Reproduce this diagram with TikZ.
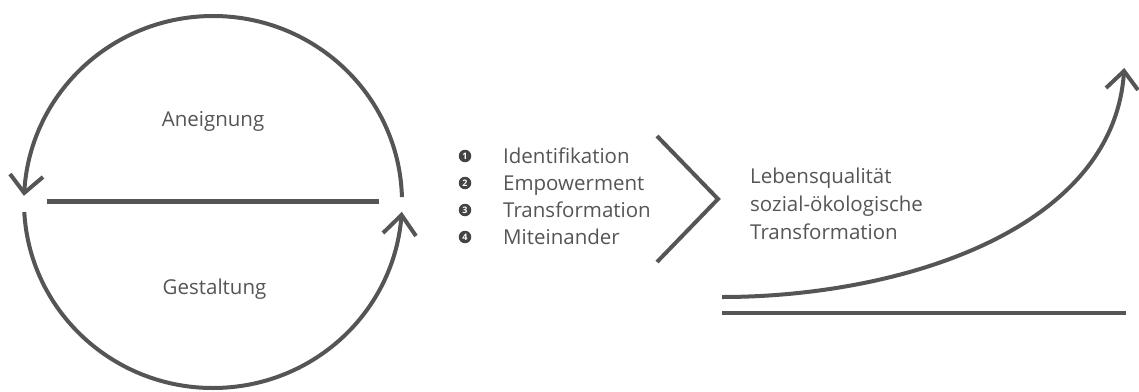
\documentclass[tikz,border=0pt]{standalone}
\usepackage{fontspec}
\setmainfont{Open Sans}
\definecolor{linegray}{HTML}{555555}
\definecolor{textgray}{HTML}{555555}
\definecolor{dotgray}{HTML}{444444}
\begin{document}
\begin{tikzpicture}[x=1pt,y=-1pt,
  stroke/.style={draw=linegray, line width=4pt, line join=miter},
  txt/.style={text=textgray, font=\fontsize{20.5}{28}\selectfont, inner sep=0pt},
  numdot/.style={circle, fill=dotgray, text=white, inner sep=0pt, minimum size=12.5pt,
    font=\fontsize{9}{9}\selectfont\bfseries},
]
\useasboundingbox (0,0) rectangle (1139,391);

% cycle: two half arcs with open arrowheads and a dividing line
\coordinate (C) at (213,202);
\draw[stroke] (C) ++(-1.5:189 and 186) arc[start angle=-1.5, end angle=-177.2, x radius=189, y radius=186] coordinate (lefttip);
\draw[stroke] (C) ++(176.9:189 and 186) arc[start angle=176.9, end angle=4, x radius=189, y radius=186] coordinate (righttip);
\coordinate (la) at (10,174);
\coordinate (lb) at (43,177);
\draw[stroke] (la) -- (lefttip) -- (lb);
\coordinate (ra) at (383,233);
\coordinate (rb) at (416,236);
\draw[stroke] (ra) -- (righttip) -- (rb);
\coordinate (d1) at (47,201.5);
\coordinate (d2) at (379,201.5);
\draw[stroke, line width=4.5pt] (d1) -- (d2);

\node[txt, anchor=base] (aneig) at (213,126) {Aneignung};
\node[txt, anchor=base] (gest) at (214.5,294) {Gestaltung};

% numbered list
\node[numdot] (n1) at (465,156) {1};
\node[numdot] (n2) at (465,183) {2};
\node[numdot] (n3) at (465,210) {3};
\node[numdot] (n4) at (465,237) {4};
\node[txt, anchor=base west] (l1) at (503,163.5) {Identifikation};
\node[txt, anchor=base west] (l2) at (503,190.5) {Empowerment};
\node[txt, anchor=base west] (l3) at (503,217.5) {Transformation};
\node[txt, anchor=base west] (l4) at (503,244.5) {Miteinander};

% chevron
\coordinate (c1) at (657,136);
\coordinate (c2) at (718,199);
\coordinate (c3) at (657,262);
\draw[stroke] (c1) -- (c2) -- (c3);

% rising curve over baseline
\node[txt, anchor=base west] (r1) at (750,183.5) {Lebensqualität};
\node[txt, anchor=base west] (r2) at (750,211.5) {sozial-ökologische};
\node[txt, anchor=base west] (r3) at (750,239.5) {Transformation};

\coordinate (g0) at (722,297);
\coordinate (gtip) at (1124,71);
\draw[stroke] (g0) .. controls (900,297) and (1115,230) .. (gtip);
\coordinate (ga) at (1106,88);
\coordinate (gb) at (1138,90);
\draw[stroke] (ga) -- (gtip) -- (gb);
\coordinate (b1) at (722,313);
\coordinate (b2) at (1126,313);
\draw[stroke, line width=4.5pt] (b1) -- (b2);
\end{tikzpicture}
\end{document}
